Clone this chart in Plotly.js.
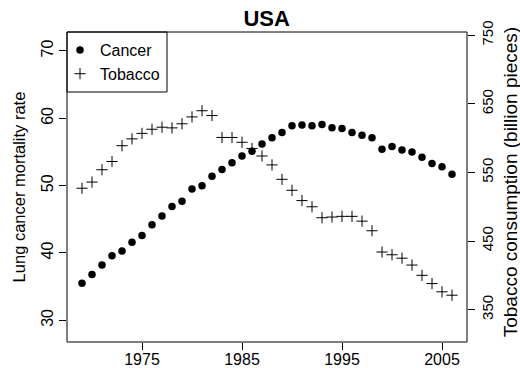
<!DOCTYPE html>
<html>
<head>
<meta charset="utf-8">
<script src="https://cdn.plot.ly/plotly-3.0.1.min.js"></script>
<style>
  html, body { margin: 0; padding: 0; background: #fff; }
  #chart { width: 520px; height: 368px; }
</style>
</head>
<body>
<div id="chart"></div>
<script>
// Annual series, 1969-2006
const years = [1969, 1970, 1971, 1972, 1973, 1974, 1975, 1976, 1977, 1978,
  1979, 1980, 1981, 1982, 1983, 1984, 1985, 1986, 1987, 1988,
  1989, 1990, 1991, 1992, 1993, 1994, 1995, 1996, 1997, 1998,
  1999, 2000, 2001, 2002, 2003, 2004, 2005, 2006];

// Lung cancer mortality rate (left axis)
const cancer = [35.5, 36.8, 38.2, 39.6, 40.3, 41.6, 42.6, 44.2, 45.5, 46.9,
  47.7, 49.5, 50.0, 51.4, 52.4, 53.4, 54.4, 55.1, 56.2, 57.1,
  57.9, 58.9, 59.0, 58.9, 59.1, 58.6, 58.5, 57.9, 57.5, 57.1,
  55.4, 55.8, 55.3, 55.0, 54.2, 53.3, 52.8, 51.7];

// Tobacco consumption, billion pieces (right axis)
const tobacco = [527, 536, 554, 566, 589, 599, 607, 613, 616, 615,
  621, 631, 640, 633, 601, 601, 594, 585, 574, 561,
  540, 524, 509, 500, 484, 485, 486, 486, 479, 465,
  434, 430, 425, 415, 400, 388, 376, 371];

const xTicks = [1975, 1985, 1995, 2005];
const leftTicks = [30, 40, 50, 60, 70];
const rightTicks = [350, 450, 550, 650, 750];

const FONT = 'Liberation Sans, Arial, Helvetica, sans-serif';

const traces = [
  {
    x: years, y: cancer, name: 'Cancer', type: 'scatter', mode: 'markers',
    marker: { symbol: 'circle', size: 7.5, color: '#000' },
    xaxis: 'x', yaxis: 'y'
  },
  {
    x: years, y: tobacco, name: 'Tobacco', type: 'scatter', mode: 'markers',
    marker: { symbol: 'cross-thin-open', size: 8, color: '#000', line: { color: '#000', width: 1 } },
    xaxis: 'x', yaxis: 'y2'
  }
];

const tickStyle = {
  ticks: 'outside', ticklen: 7, tickwidth: 1, tickcolor: '#000',
  showgrid: false, zeroline: false, showline: false,
  tickfont: { family: FONT, size: 16, color: '#000' }
};

const layout = {
  width: 520, height: 368,
  margin: { l: 66.7, r: 53.3, t: 31.7, b: 26.3 },
  paper_bgcolor: '#fff', plot_bgcolor: '#fff',
  font: { family: FONT, color: '#000' },
  showlegend: true,
  title: {
    text: 'USA', font: { family: FONT, size: 22, weight: 'bold', color: '#000' },
    x: 266.7 / 520, xanchor: 'center', xref: 'container',
    y: 1 - 18.5 / 368, yanchor: 'middle', yref: 'container'
  },
  xaxis: Object.assign({}, tickStyle, {
    range: [1967.5, 2007.5], tickmode: 'array', tickvals: xTicks,
    ticklabelstandoff: -4
  }),
  yaxis: Object.assign({}, tickStyle, {
    range: [26.78, 72.82], tickmode: 'array', tickvals: leftTicks, tickangle: -90
  }),
  yaxis2: Object.assign({}, tickStyle, {
    range: [302.8, 754.8], tickmode: 'array', tickvals: rightTicks, tickangle: -90,
    overlaying: 'y', side: 'right',
    tickfont: { family: FONT, size: 15, color: '#000' }
  }),
  legend: {
    x: -7 / 400, y: 1 - 1 / 310, xanchor: 'left', yanchor: 'top',
    bgcolor: 'rgba(0,0,0,0)', borderwidth: 0,
    font: { family: FONT, size: 16, color: '#000' },
    itemwidth: 30
  },
  shapes: [
    // plot frame
    { type: 'rect', xref: 'paper', yref: 'paper', x0: 0, x1: 1, y0: 0, y1: 1,
      line: { color: '#000', width: 1 } },
    // legend frame
    { type: 'rect', xref: 'paper', yref: 'paper', x0: 0, x1: 100 / 400, y0: 1 - 60 / 310, y1: 1,
      line: { color: '#000', width: 1 }, fillcolor: 'rgba(0,0,0,0)' }
  ],
  annotations: [
    { text: 'Lung cancer mortality rate', textangle: -90, showarrow: false,
      xref: 'paper', yref: 'paper', x: -48.4 / 400, y: (341.7 - 186.5) / 310,
      xanchor: 'center', yanchor: 'middle',
      font: { family: FONT, size: 16.5, color: '#000' } },
    { text: 'Tobacco consumption (billion pieces)', textangle: -90, showarrow: false,
      xref: 'paper', yref: 'paper', x: 1 + 43 / 400, y: (341.7 - 182) / 310,
      xanchor: 'center', yanchor: 'middle',
      font: { family: FONT, size: 19, color: '#000' } }
  ]
};

Plotly.newPlot('chart', traces, layout, { displayModeBar: false, staticPlot: true });
</script>
</body>
</html>
